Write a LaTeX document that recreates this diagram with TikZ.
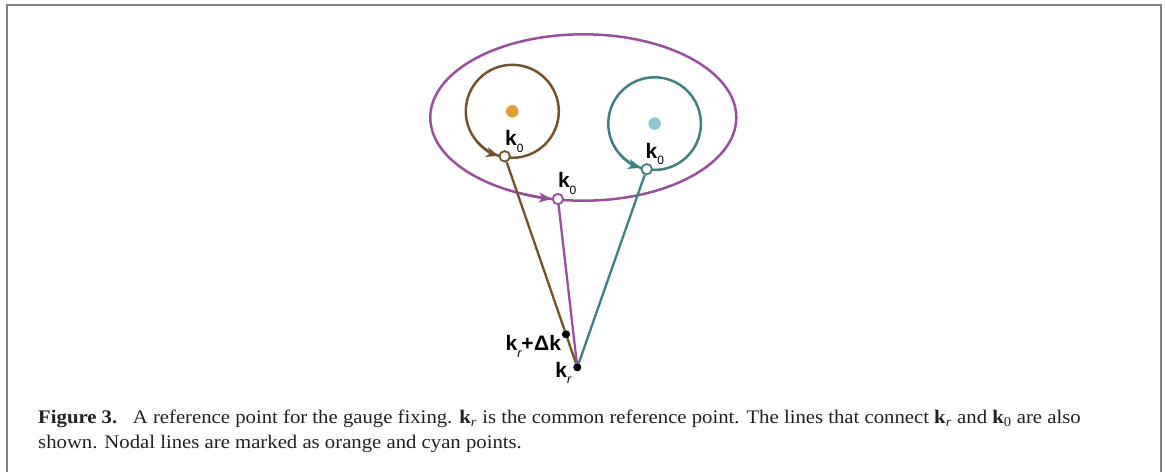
\documentclass[tikz,border=0pt]{standalone}
\usepackage{fontspec}
\setmainfont{Liberation Serif}
\newfontfamily\labfont{Liberation Sans}
\usetikzlibrary{arrows.meta,calc}
\definecolor{brownc}{HTML}{74532A}
\definecolor{purplec}{HTML}{9A4E9E}
\definecolor{tealc}{HTML}{3F7F80}
\definecolor{orangec}{HTML}{E3A030}
\definecolor{cyanc}{HTML}{8FC6D4}
\definecolor{framec}{HTML}{808080}
\definecolor{captc}{HTML}{231F20}
\newcommand{\kb}{{\labfont\bfseries k}}
\newcommand{\subz}{\raisebox{-6.8pt}{\fontsize{12}{12}\selectfont\labfont 0}}
\newcommand{\subr}{\raisebox{-6.8pt}{\fontsize{12.5}{12.5}\selectfont\labfont\itshape r}}
\newcommand{\capline}[1]{\scalebox{1.08}[1]{#1}}
\begin{document}
\begin{tikzpicture}[x=1pt,y=-1pt,
  curve/.style={line width=2.5pt},
  conn/.style={line width=2.3pt},
  tip/.style={-{Stealth[length=12.5pt,width=10pt,inset=3.5pt]}},
  marker/.style={circle,draw,fill=white,inner sep=0pt,minimum size=10.4pt,line width=1.8pt},
  blackdot/.style={circle,fill=black,inner sep=0pt,minimum size=7.8pt},
  nodal/.style={circle,inner sep=0pt,minimum size=12.5pt},
  lab/.style={anchor=base west,inner sep=0pt,font=\fontsize{21}{21}\selectfont\labfont},
  capt/.style={anchor=base west,inner sep=0pt,text=captc,font=\fontsize{19.2}{22}\selectfont}
]
\useasboundingbox (0,0) rectangle (1165,472);
% frame
\draw[framec,line width=2pt] (6.8,472) -- (6.8,4.6) -- (1160.6,4.6) -- (1160.6,472);

% centres
\coordinate (C1) at (512.3,111.3);
\coordinate (C2) at (654.6,123.6);
\coordinate (E) at (583.3,117.5);

% big ellipse
\draw[purplec,curve] (E) ellipse[x radius=153,y radius=83.2];
\draw[purplec,curve,tip] ($(E)+(114:153 and 83.2)$) arc[start angle=114,end angle=102,x radius=153,y radius=83.2];

% brown circle
\draw[brownc,curve] (C1) circle[radius=46.5];
\draw[brownc,curve,tip] ($(C1)+(138:46.5)$) arc[start angle=138,end angle=107,radius=46.5];

% teal circle
\draw[tealc,curve] (C2) circle[radius=46.3];
\draw[tealc,curve,tip] ($(C2)+(138:46.3)$) arc[start angle=138,end angle=107.4,radius=46.3];

% nodal points
\node[nodal,fill=orangec] (od) at (C1) {};
\node[nodal,fill=cyanc] (cd) at (C2) {};

% reference points
\node[blackdot] (kr) at (577.3,367.3) {};
\node[blackdot] (krdk) at (566.0,334.3) {};

% markers k0
\node[marker,draw=brownc] (m1) at (504.7,156.3) {};
\node[marker,draw=purplec] (m2) at (557.9,199.0) {};
\node[marker,draw=tealc] (m3) at (646.7,169.2) {};

% connectors
\draw[brownc,conn] (m1) -- (krdk);
\draw[brownc,conn] (krdk) -- (kr);
\draw[purplec,conn] (m2) -- (kr);
\draw[tealc,conn] (m3) -- (kr);
\node[blackdot] at (kr) {};
\node[blackdot] at (krdk) {};

% labels
\node[lab] (l1) at (505.0,145.4) {\kb\subz};
\node[lab] (l2) at (557.8,187.2) {\kb\subz};
\node[lab] (l3) at (645.4,158.0) {\kb\subz};
\node[lab] (l4) at (505.4,350.4) {\kb\subr{\bfseries +\kern0.5ptΔk}};
\node[lab] (l5) at (555.2,377.0) {\kb\subr};

% caption
\node[capt] (cap1) at (38,423.2) {\capline{\textbf{Figure 3.}\hspace{0.75em}A reference point for the gauge fixing. \textbf{k}\textsubscript{\textit{r}} is the common reference point. The lines that connect \textbf{k}\textsubscript{\textit{r}} and \textbf{k}\textsubscript{0} are also}};
\node[capt] (cap2) at (38,448.6) {\capline{shown. Nodal lines are marked as orange and cyan points.}};
\end{tikzpicture}
\end{document}
